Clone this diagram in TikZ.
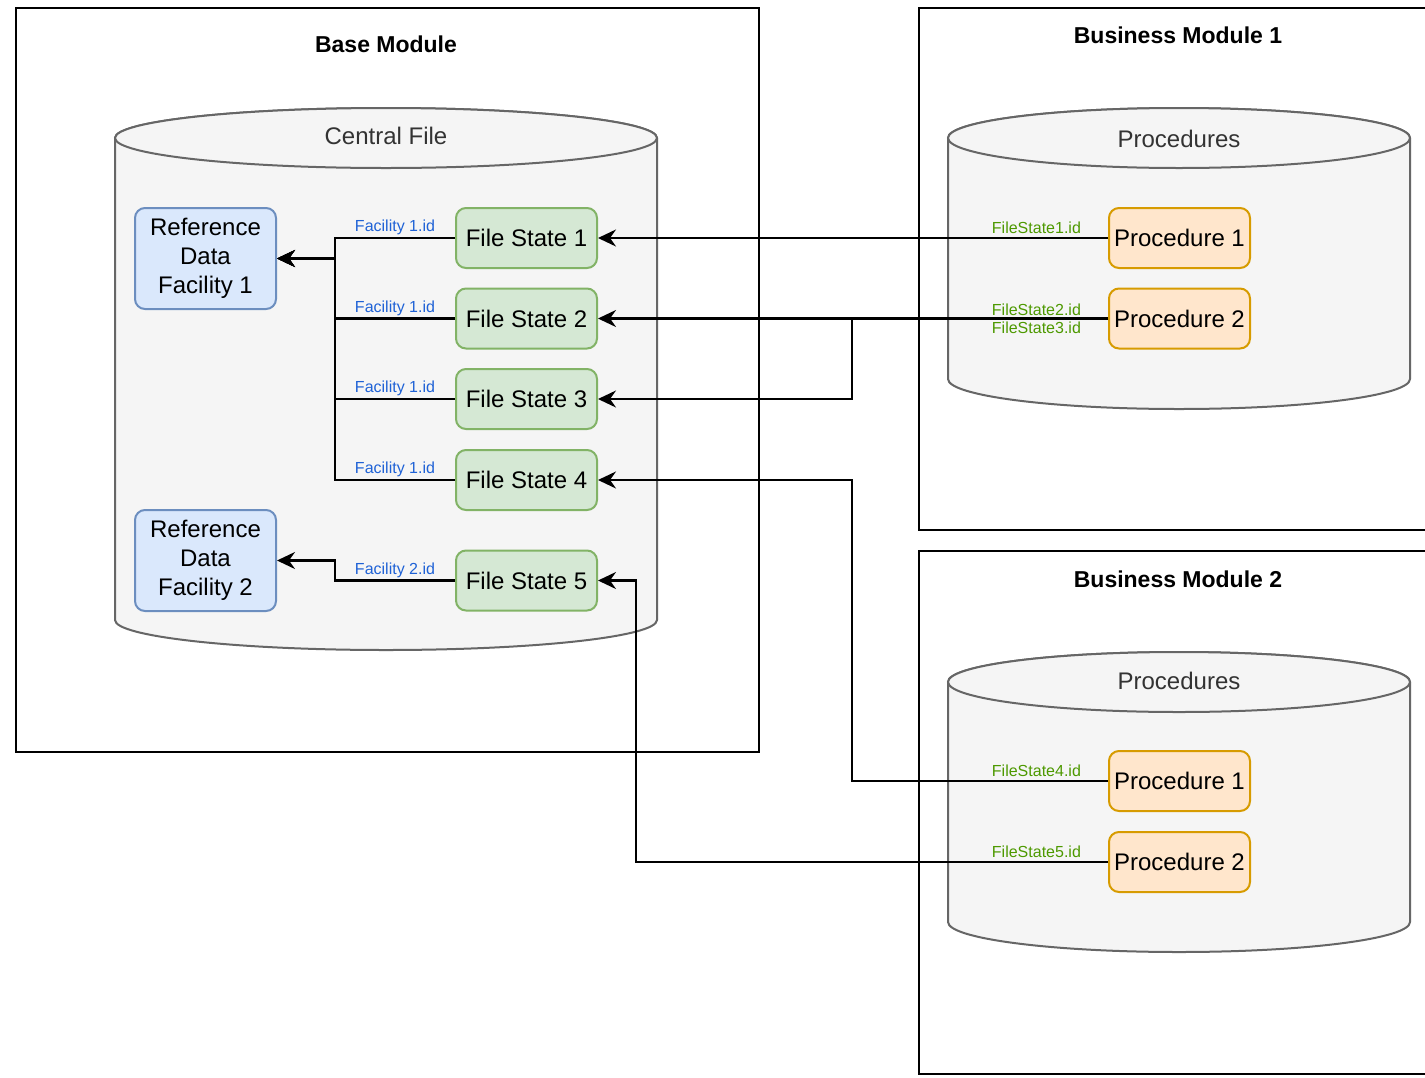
\documentclass[tikz,border=0pt]{standalone}
\usepackage{fontspec}
\setmainfont{Liberation Sans}
\usetikzlibrary{arrows.meta}
\definecolor{gfill}{HTML}{D5E8D4}
\definecolor{gline}{HTML}{82B366}
\definecolor{bfill}{HTML}{DAE8FC}
\definecolor{bline}{HTML}{6C8EBF}
\definecolor{ofill}{HTML}{FFE6CC}
\definecolor{oline}{HTML}{D79B00}
\definecolor{cylfill}{HTML}{F5F5F5}
\definecolor{cylline}{HTML}{666666}
\definecolor{bluetxt}{HTML}{1F62D6}
\definecolor{greentxt}{HTML}{4D9900}
\tikzset{
  modbox/.style={draw=black, line width=2pt, fill=white},
  cyl/.style={draw=cylline, line width=2pt, fill=cylfill},
  title/.style={font=\fontsize{23}{27}\selectfont\bfseries},
  cyltitle/.style={font=\fontsize{24}{28}\selectfont, text=black!80},
  boxbase/.style={rounded corners=10pt, line width=2pt, minimum width=141pt, minimum height=60pt, align=center, font=\fontsize{24}{29}\selectfont, inner sep=2pt},
  fsbox/.style={boxbase, draw=gline, fill=gfill},
  refbox/.style={boxbase, draw=bline, fill=bfill, minimum height=101pt},
  procbox/.style={boxbase, draw=oline, fill=ofill},
  conn/.style={draw=black, line width=2.2pt, -{Stealth[length=18pt,width=17pt,inset=6pt]}},
  flbl/.style={font=\fontsize{16}{18}\selectfont, text=bluetxt, above, inner sep=2pt},
  glbl/.style={font=\fontsize{16}{18}\selectfont, text=greentxt, inner sep=2pt},
}
\begin{document}
\begin{tikzpicture}[x=1pt,y=-1pt]
\useasboundingbox (0,0) rectangle (1425,1077);
\clip (0,0) rectangle (1425,1077);
\fill[white] (0,0) rectangle (1425,1077);

% module boxes
\node[modbox, anchor=north west, minimum width=743pt, minimum height=744pt] (base) at (15,7) {};
\node[title] (basetitle) at (386,44) {Base Module};
\node[modbox, anchor=north west, minimum width=540pt, minimum height=522pt] (bm1) at (918,7) {};
\node[title] (bm1title) at (1178,35) {Business Module 1};
\node[modbox, anchor=north west, minimum width=540pt, minimum height=523pt] (bm2) at (918,550) {};
\node[title] (bm2title) at (1178,579) {Business Module 2};

% central file cylinder
\path[cyl] (115,138) -- (115,620) arc[start angle=180, end angle=360, x radius=271pt, y radius=30pt]
  -- (657,138) arc[start angle=0, end angle=180, x radius=271pt, y radius=30pt] -- cycle;
\draw[cyl] (386,138) ellipse[x radius=271pt, y radius=30pt];
\node[cyltitle] (cftitle) at (386,136) {Central File};

% procedures cylinder 1
\path[cyl] (948,138) -- (948,379) arc[start angle=180, end angle=360, x radius=231pt, y radius=30pt]
  -- (1410,138) arc[start angle=0, end angle=180, x radius=231pt, y radius=30pt] -- cycle;
\draw[cyl] (1179,138) ellipse[x radius=231pt, y radius=30pt];
\node[cyltitle] (p1title) at (1179,139) {Procedures};

% procedures cylinder 2
\path[cyl] (948,682) -- (948,922) arc[start angle=180, end angle=360, x radius=231pt, y radius=30pt]
  -- (1410,682) arc[start angle=0, end angle=180, x radius=231pt, y radius=30pt] -- cycle;
\draw[cyl] (1179,682) ellipse[x radius=231pt, y radius=30pt];
\node[cyltitle] (p2title) at (1179,681) {Procedures};

% nodes
\node[refbox] (rdf1) at (205.5,258.5) {Reference\\Data\\Facility 1};
\node[refbox] (rdf2) at (205.5,560.5) {Reference\\Data\\Facility 2};
\node[fsbox] (fs1) at (526.5,238) {File State 1};
\node[fsbox] (fs2) at (526.5,318.5) {File State 2};
\node[fsbox] (fs3) at (526.5,399) {File State 3};
\node[fsbox] (fs4) at (526.5,480) {File State 4};
\node[fsbox] (fs5) at (526.5,580.5) {File State 5};
\node[procbox] (b1p1) at (1179.5,238) {Procedure 1};
\node[procbox] (b1p2) at (1179.5,318.5) {Procedure 2};
\node[procbox] (b2p1) at (1179.5,781) {Procedure 1};
\node[procbox] (b2p2) at (1179.5,862) {Procedure 2};

% facility references
\draw[conn] (fs1.west) -- node[flbl]{Facility 1.id} ++(-120,0) |- (rdf1.east);
\draw[conn] (fs2.west) -- node[flbl]{Facility 1.id} ++(-120,0) |- (rdf1.east);
\draw[conn] (fs3.west) -- node[flbl]{Facility 1.id} ++(-120,0) |- (rdf1.east);
\draw[conn] (fs4.west) -- node[flbl]{Facility 1.id} ++(-120,0) |- (rdf1.east);
\draw[conn] (fs5.west) -- node[flbl]{Facility 2.id} ++(-120,0) |- (rdf2.east);

% procedure references
\draw[conn] (b1p1.west) -- node[glbl, at start, anchor=south east, xshift=-24pt, yshift=1pt]{FileState1.id} (fs1.east);
\draw[conn] (b1p2.west) -- node[glbl, at start, anchor=south east, xshift=-24pt]{FileState2.id} (fs2.east);
\draw[conn] (b1p2.west) -- node[glbl, at start, anchor=north east, xshift=-24pt]{FileState3.id} ++(-256,0) |- (fs3.east);
\draw[conn] (b2p1.west) -- node[glbl, at start, anchor=south east, xshift=-24pt, yshift=1pt]{FileState4.id} ++(-256,0) |- (fs4.east);
\draw[conn] (b2p2.west) -- node[glbl, at start, anchor=south east, xshift=-24pt, yshift=1pt]{FileState5.id} ++(-472,0) |- (fs5.east);
\end{tikzpicture}
\end{document}
